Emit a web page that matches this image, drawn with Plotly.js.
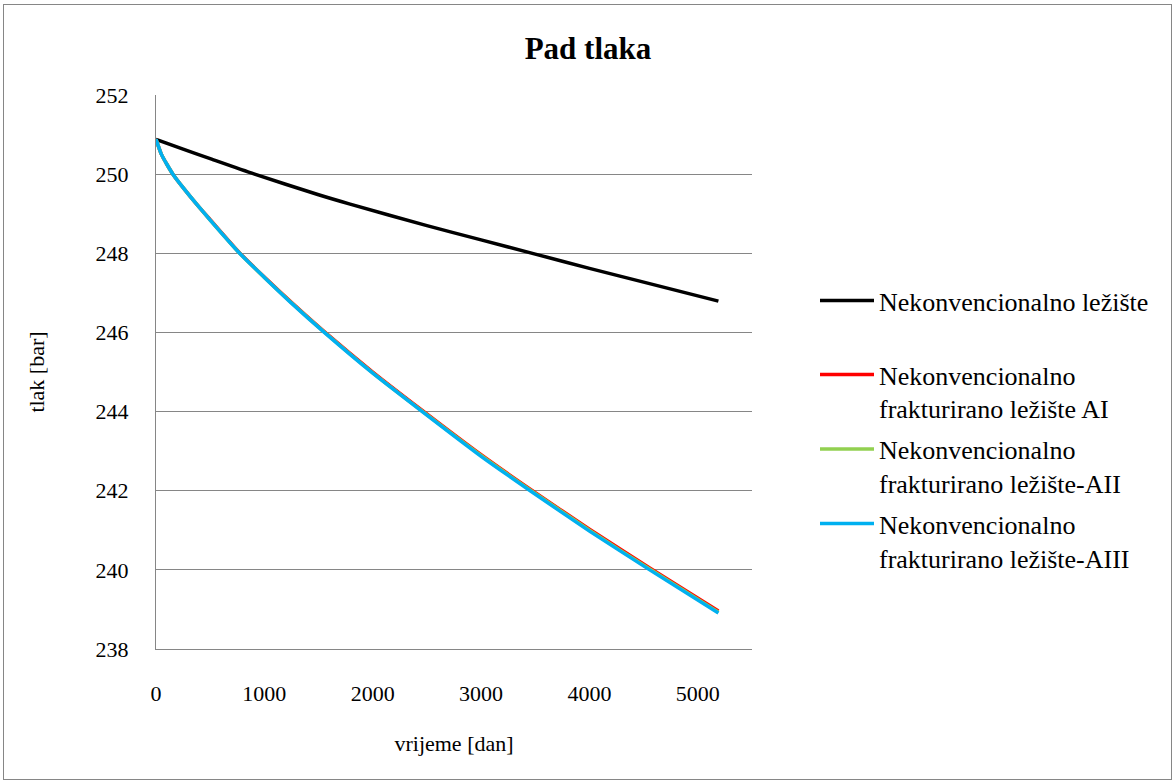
<!DOCTYPE html>
<html>
<head>
<meta charset="utf-8">
<script src="https://cdn.plot.ly/plotly-3.0.1.min.js"></script>
<style>
  html, body { margin: 0; padding: 0; background: #fff; }
  #wrap { position: relative; width: 1176px; height: 784px; }
  #chart { width: 1176px; height: 784px; }
  #frame { position: absolute; left: 3px; top: 4px; width: 1167px; height: 774px; border: 1px solid #868686; pointer-events: none; }
</style>
</head>
<body>
<div id="wrap"><div id="chart"></div><div id="frame"></div></div>
<script>
// Days (vrijeme [dan])
const daysBlack = [0, 250, 500, 910, 1500, 1783, 2500, 3000, 3500, 4000, 4500, 5190];
const pressureBlack = [250.88, 250.63, 250.39, 250.00, 249.48, 249.25, 248.70, 248.34, 247.98, 247.62, 247.27, 246.79];

const daysFrac = [0, 50, 100, 156, 250, 400, 500, 772, 1000, 1250, 1553, 2000, 2457, 3000, 3453, 4000, 4556, 5190];
const pressureAI   = [250.88, 250.50, 250.25, 250.00, 249.66, 249.16, 248.85, 248.01, 247.40, 246.76, 246.02, 245.00, 244.03, 242.91, 242.04, 241.03, 240.05, 238.96];
const pressureAII  = [250.88, 250.50, 250.25, 250.00, 249.66, 249.16, 248.84, 248.00, 247.39, 246.75, 246.01, 244.98, 244.01, 242.89, 242.02, 241.00, 240.02, 238.93];
const pressureAIII = [250.88, 250.50, 250.25, 250.00, 249.66, 249.16, 248.84, 248.00, 247.39, 246.74, 246.00, 244.97, 244.00, 242.87, 242.00, 240.98, 240.00, 238.91];

const seriesNames = [
  'Nekonvencionalno ležište',
  'Nekonvencionalno<br>frakturirano ležište AI',
  'Nekonvencionalno<br>frakturirano ležište-AII',
  'Nekonvencionalno<br>frakturirano ležište-AIII'
];
const xTicks = [0, 1000, 2000, 3000, 4000, 5000];
const yTicks = [238, 240, 242, 244, 246, 248, 250, 252];

const FONT = "'Liberation Serif', 'Times New Roman', serif";

const traces = [
  { x: daysBlack, y: pressureBlack, name: seriesNames[0], mode: 'lines', line: { color: '#000000', width: 3.5, shape: 'spline', smoothing: 0.8 }, legend: 'legend' },
  { x: daysFrac, y: pressureAI, name: seriesNames[1], mode: 'lines', line: { color: '#FF0000', width: 3.5, shape: 'spline', smoothing: 0.6 }, legend: 'legend2', legendgroup: 'g1' },
  { x: daysFrac, y: pressureAII, name: seriesNames[2], mode: 'lines', line: { color: '#92D050', width: 3.5, shape: 'spline', smoothing: 0.6 }, legend: 'legend2', legendgroup: 'g2' },
  { x: daysFrac, y: pressureAIII, name: seriesNames[3], mode: 'lines', line: { color: '#00B0F0', width: 3.5, shape: 'spline', smoothing: 0.6 }, legend: 'legend2', legendgroup: 'g3' }
];

const layout = {
  width: 1176, height: 784,
  margin: { l: 156, r: 424, t: 95, b: 135 },
  paper_bgcolor: '#ffffff', plot_bgcolor: '#ffffff',
  font: { family: FONT, color: '#000000', size: 22 },
  title: { text: '<b>Pad tlaka</b>', font: { family: FONT, size: 31, color: '#000' }, x: 0.5, xanchor: 'center', xref: 'container', y: 1 - 48/784, yanchor: 'middle', yref: 'container' },
  xaxis: {
    range: [0, 5500], tickvals: xTicks, ticktext: xTicks.map(String),
    showgrid: false, zeroline: false, showline: true, linecolor: '#868686', linewidth: 1,
    ticks: 'outside', ticklen: 25, tickcolor: 'rgba(0,0,0,0)',
    tickfont: { family: FONT, size: 22 },
    title: { text: 'vrijeme [dan]', font: { family: FONT, size: 22 }, standoff: 30 }
  },
  yaxis: {
    range: [238, 252], tickvals: yTicks, ticktext: yTicks.map(String),
    showgrid: true, gridcolor: '#868686', gridwidth: 1, zeroline: false,
    showline: true, linecolor: '#868686', linewidth: 1,
    ticks: 'outside', ticklen: 22, tickcolor: 'rgba(0,0,0,0)',
    tickfont: { family: FONT, size: 22 },
    title: { text: 'tlak [bar]', font: { family: FONT, size: 22 }, standoff: 44 }
  },
  showlegend: true,
  legend: { xref: 'container', yref: 'container', x: 815/1176, xanchor: 'left', y: 1 - 277/784, yanchor: 'top', bgcolor: 'rgba(0,0,0,0)', borderwidth: 0, font: { family: FONT, size: 26 }, valign: 'top', itemwidth: 54 },
  legend2: { xref: 'container', yref: 'container', x: 815/1176, xanchor: 'left', y: 1 - 351/784, yanchor: 'top', bgcolor: 'rgba(0,0,0,0)', borderwidth: 0, font: { family: FONT, size: 26 }, valign: 'top', tracegroupgap: 4, itemwidth: 54 }
};

Plotly.newPlot('chart', traces, layout, { staticPlot: true, displayModeBar: false });
</script>
</body>
</html>
